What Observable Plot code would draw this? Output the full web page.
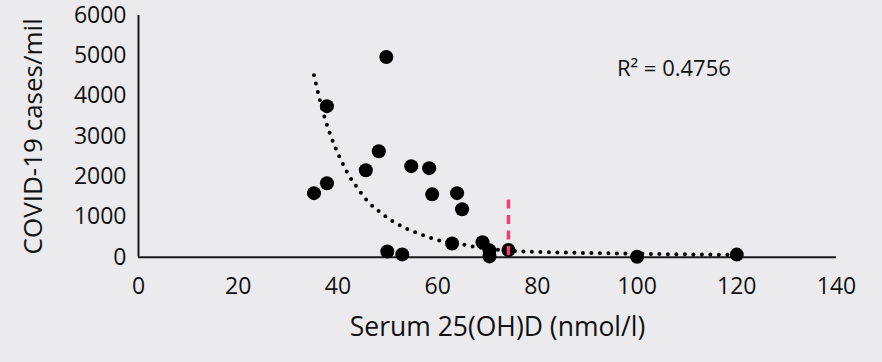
<!DOCTYPE html>
<html>
<head>
<meta charset="utf-8">
<script src="https://cdn.jsdelivr.net/npm/d3@7"></script>
<script src="https://cdn.jsdelivr.net/npm/@observablehq/plot@0.6"></script>
<style>
  html, body { margin: 0; padding: 0; background: #ebebee; }
  #chart { width: 882px; height: 362px; }
</style>
</head>
<body>
<div id="chart"></div>
<script>
// Observed points: serum 25(OH)D (nmol/l) vs COVID-19 cases per million
const vitD  = [35.2, 37.8, 37.8, 49.7, 45.6, 48.2, 54.7, 58.3, 58.9, 63.9, 64.9, 49.9, 52.9, 62.9, 69.0, 70.4, 70.4, 74.2, 100, 120];
const cases = [1590, 1835, 3750, 4970, 2160, 2630, 2260, 2210, 1560, 1590, 1190, 140, 70, 340, 370, 170, 20, 180, 10, 65];

// Dotted trend line
const trendX = [35.2, 36.4, 37.9, 39.1, 40.5, 42.1, 44.0, 46.1, 47.8, 50.5, 53.5, 56.8, 60.2, 65.4, 67.1, 75.9, 92.6, 112.6, 119.5];
const trendY = [4516, 3883, 3246, 2838, 2440, 2051, 1703, 1369, 1180, 931, 722, 558, 416, 309, 266, 150, 100, 67, 60];

// Reference threshold (dashed pink line)
const thresholdX = [74.2];
const thresholdY1 = 40;
const thresholdY2 = 1460;

const xTicks = [0, 20, 40, 60, 80, 100, 120, 140];
const yTicks = [0, 1000, 2000, 3000, 4000, 5000, 6000];
const xTitle = "Serum 25(OH)D (nmol/l)";
const yTitle = "COVID-19 cases/mil";
const r2Text = "R\u00B2 = 0.4756";

const points = vitD.map((x, i) => ({x, y: cases[i]}));
const trend = trendX.map((x, i) => ({x, y: trendY[i]}));

const chart = Plot.plot({
  width: 882,
  height: 362,
  marginLeft: 138,
  marginRight: 46,
  marginTop: 15,
  marginBottom: 105.3,
  style: { background: "#ebebee", fontFamily: "'Open Sans', sans-serif", color: "#111" },
  x: { domain: [0, 140] },
  y: { domain: [0, 6000] },
  marks: [
    Plot.axisX({ ticks: xTicks, tickSize: 0, tickPadding: 20, fontSize: 23, label: null }),
    Plot.axisY({ ticks: yTicks, tickSize: 0, tickPadding: 12, fontSize: 23, tickFormat: d => String(d), label: null }),
    Plot.ruleY([0], { stroke: "#1a1a1a", strokeWidth: 2 }),
    Plot.ruleX([0], { stroke: "#1a1a1a", strokeWidth: 2 }),
    Plot.line(trend, { x: "x", y: "y", curve: "monotone-x", stroke: "#000", strokeWidth: 4, strokeLinecap: "round", strokeDasharray: "0,8.5" }),
    Plot.dot(points, { x: "x", y: "y", r: 7, fill: "#000" }),
    Plot.ruleX(thresholdX, { y1: thresholdY1, y2: thresholdY2, stroke: "#ec3f74", strokeWidth: 3.5, strokeDasharray: "9,6.5" }),
    Plot.text([r2Text], { frameAnchor: "top-left", dx: 478.4, dy: 53.7, textAnchor: "start", lineAnchor: "middle", fontSize: 22, fill: "#111" }),
    Plot.text([xTitle], { frameAnchor: "bottom", dx: 10, dy: 70, textAnchor: "middle", lineAnchor: "middle", fontSize: 26.5, fill: "#111" }),
    Plot.text([yTitle], { frameAnchor: "left", dx: -105, rotate: -90, textAnchor: "middle", lineAnchor: "middle", fontSize: 26, fill: "#111" })
  ]
});
document.getElementById("chart").appendChild(chart);
</script>
</body>
</html>
